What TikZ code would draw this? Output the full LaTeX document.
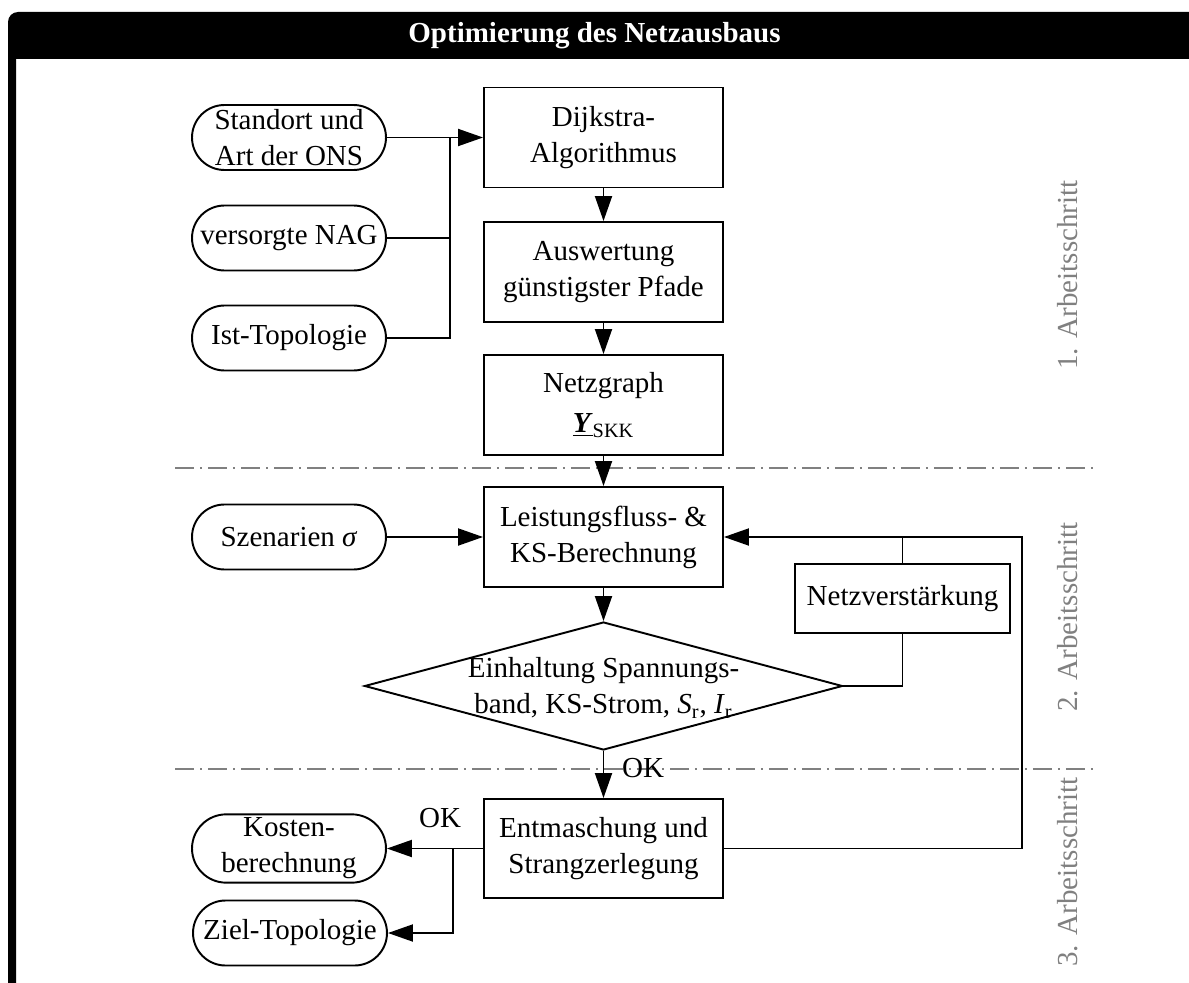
\documentclass[tikz,border=0pt]{standalone}
\usepackage{fontspec}
\setmainfont{Liberation Serif}
\usetikzlibrary{arrows.meta, shapes.geometric, shapes.misc, calc}
\definecolor{stepGray}{HTML}{808080}

\begin{document}
\begin{tikzpicture}[
    font=\fontsize{16.5}{20.5}\selectfont,
    proc/.style={rectangle, draw, line width=1.1pt, minimum width=4.78cm,
                 minimum height=2cm, align=center, inner sep=2pt},
    term/.style={rounded rectangle, draw, line width=1.1pt, minimum width=4.02cm,
                 minimum height=1.3cm, align=center, inner sep=2pt},
    arr/.style={-{Triangle[length=0.5cm, width=0.34cm]}, line width=1.1pt},
    con/.style={line width=1.1pt},
    sep/.style={stepGray, line width=1.2pt,
                dash pattern=on 0.38cm off 0.12cm on 0.04cm off 0.12cm},
    stage/.style={stepGray, rotate=90}
  ]
  \useasboundingbox (0,0) rectangle (23.78,-19.66);

  % frame and title
  \fill[black] (0.16,-19.66) -- (0.16,-0.44) arc[start angle=180, end angle=90, radius=0.2]
    -- (23.78,-0.24) -- (23.78,-1.18) -- (0.32,-1.18) -- (0.32,-19.66) -- cycle;
  \node[text=white, font=\fontsize{16.5}{20.5}\selectfont\bfseries] (title) at (11.89,-0.71)
    {Optimierung des Netzausbaus};

  % separators
  \draw[sep] (3.5,-9.36) -- (21.96,-9.36);
  \draw[sep] (3.5,-15.38) -- (21.96,-15.38);
  \node[stage] (s1) at (21.36,-5.5) {1. Arbeitsschritt};
  \node[stage] (s2) at (21.36,-12.34) {2. Arbeitsschritt};
  \node[stage] (s3) at (21.36,-17.44) {3. Arbeitsschritt};

  % inputs
  \node[term] (ons) at (5.78,-2.75) {Standort und\\Art der ONS};
  \node[term] (nag) at (5.78,-4.76) {versorgte NAG};
  \node[term] (ist) at (5.78,-6.76) {Ist-Topologie};
  \node[term] (szen) at (5.78,-10.74) {Szenarien \textit{σ}};
  \node[term] (kosten) at (5.78,-16.97) {Kosten-\\berechnung};
  \node[term] (ziel) at (5.8,-18.66) {Ziel-Topologie};

  % steps
  \node[proc] (dijk) at (12.07,-2.75) {Dijkstra-\\Algorithmus};
  \node[proc] (ausw) at (12.07,-5.44) {Auswertung\\günstigster Pfade};
  \node[proc] (netz) at (12.07,-8.1)
    {Netzgraph\\[2pt]\underline{\textbf{\textit{Y}}}\textsubscript{SKK}};
  \node[proc] (lfb) at (12.07,-10.74) {Leistungsfluss- \&\\KS-Berechnung};
  \node[proc, minimum width=4.3cm, minimum height=1.38cm] (nv) at (18.05,-11.97)
    {Netzverstärkung};
  \node[diamond, draw, line width=1.1pt, inner sep=0pt, minimum width=9.56cm,
        minimum height=2.56cm] (check) at (12.07,-13.72) {};
  \node[align=center] (checktxt) at (12.07,-13.76)
    {Einhaltung Spannungs-\\band, KS-Strom, \textit{S}\textsubscript{r}, \textit{I}\textsubscript{r}};
  \node[proc, minimum height=1.98cm] (ent) at (12.07,-16.97)
    {Entmaschung und\\Strangzerlegung};

  \node (ok1) at (12.86,-15.36) {OK};
  \node (ok2) at (8.8,-16.36) {OK};

  % connectors
  \coordinate (j1) at (9.0,-2.75);
  \coordinate (j2) at (9.06,-16.97);
  \coordinate (loop) at (20.44,-10.74);
  \draw[arr] (ons.east) -- (dijk.west);
  \draw[con] (nag.east) -- (nag.east -| j1);
  \draw[con] (ist.east) -| (j1);
  \draw[arr] (dijk) -- (ausw);
  \draw[arr] (ausw) -- (netz);
  \draw[arr] (netz) -- (lfb);
  \draw[arr] (szen) -- (lfb);
  \draw[arr] (lfb) -- (check.north);
  \draw[arr] (check.south) -- (ent.north);
  \draw[con] (check.east) -| (nv.south);
  \draw[con] (nv.north) -- (nv.north |- lfb.east);
  \draw[arr] (ent.east) -| (loop) -- (lfb.east);
  \draw[arr] (ent.west) -- (kosten.east);
  \draw[arr] (j2) |- (ziel.east);
\end{tikzpicture}
\end{document}
